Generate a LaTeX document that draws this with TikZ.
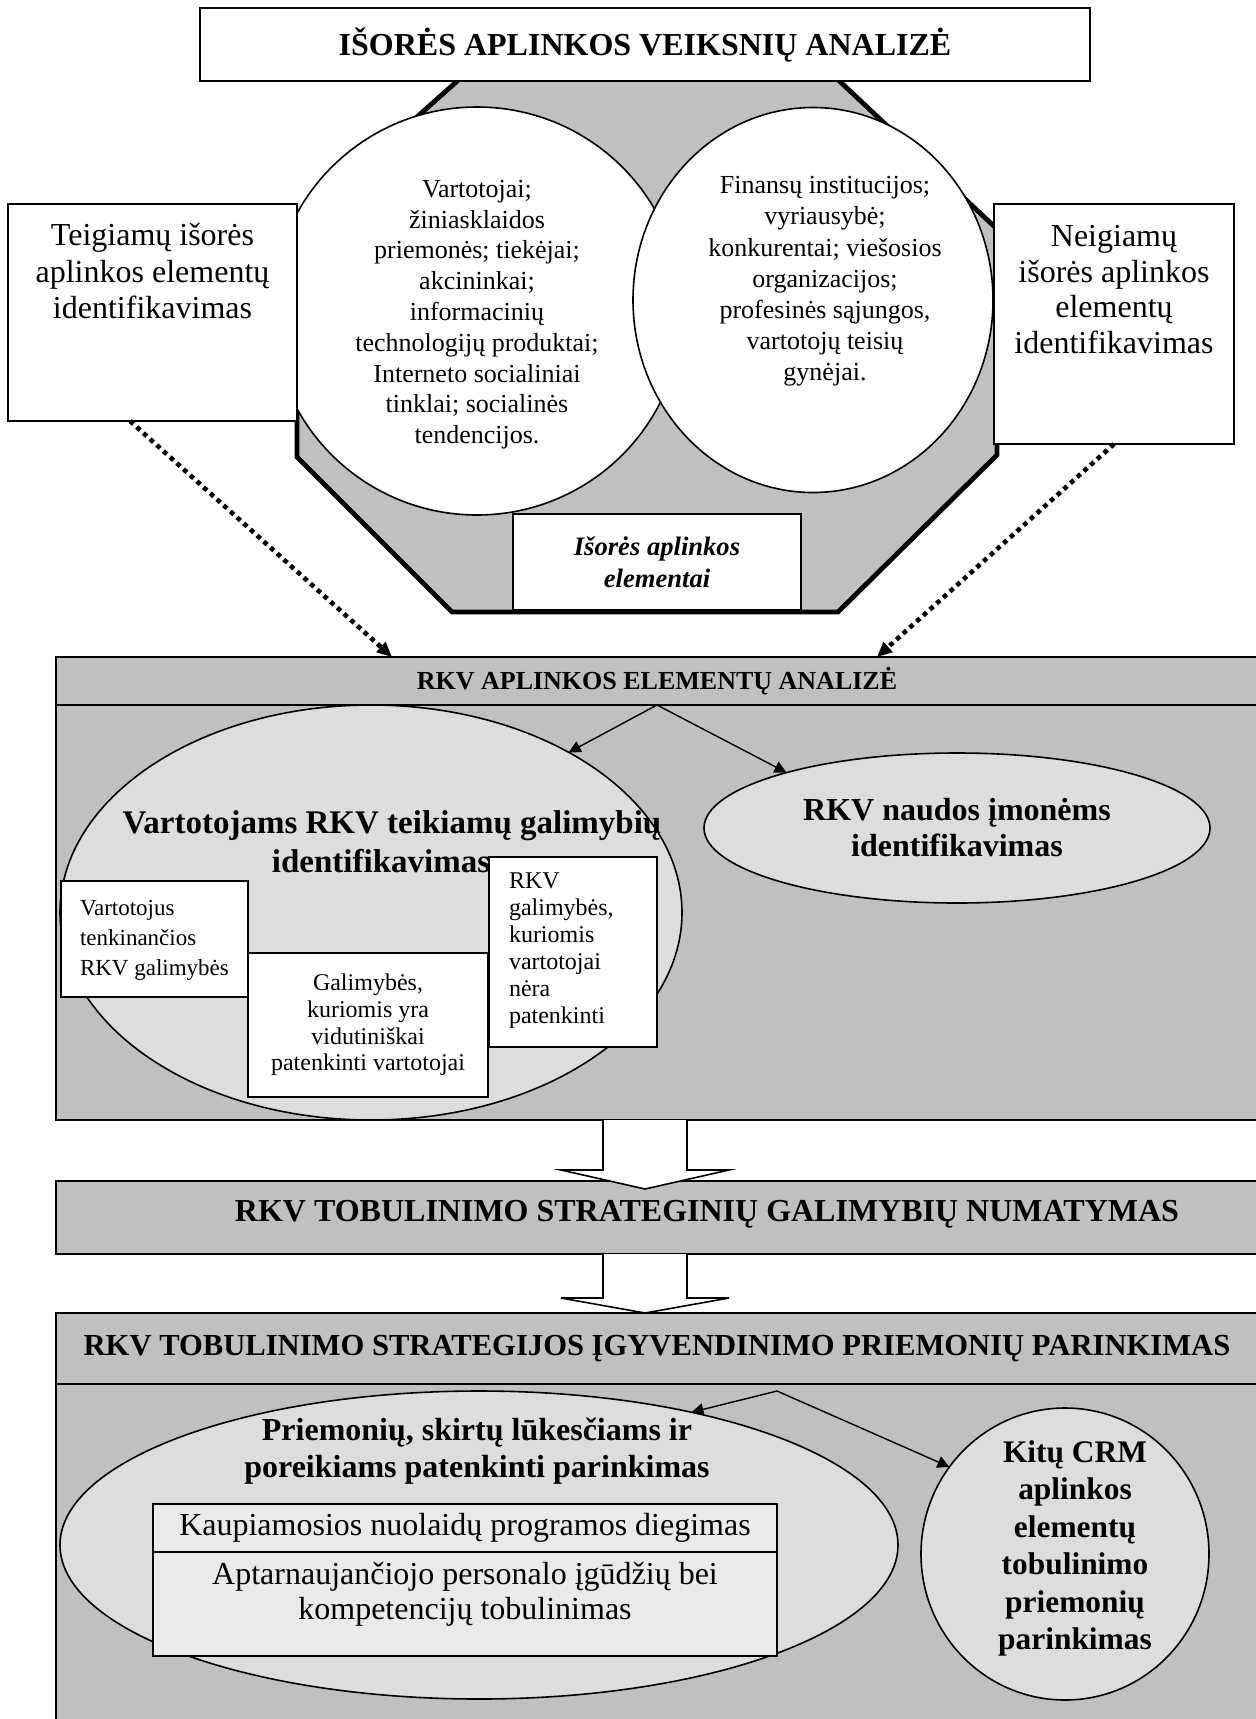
\documentclass[tikz,border=0pt]{standalone}
\usepackage{fontspec}
\setmainfont{Liberation Serif}
\usetikzlibrary{arrows.meta,shapes.geometric}

\definecolor{panelgray}{HTML}{C0C0C0}
\definecolor{ovalgray}{HTML}{DDDDDD}
\definecolor{cellgray}{HTML}{EAEAEA}

% font size with baseline skip
\newcommand{\fsz}[2]{\fontsize{#1}{#2}\selectfont}

\begin{document}
\begin{tikzpicture}[x=0.5pt,y=-0.5pt,
  every node/.style={inner sep=0pt,outer sep=0pt},
  box/.style={draw,line width=0.8pt,fill=white,rectangle},
  panel/.style={draw,line width=0.8pt,fill=panelgray,rectangle},
  oval/.style={draw,line width=0.8pt,ellipse},
  cell/.style={draw,line width=0.8pt,fill=cellgray,rectangle},
  txt/.style={align=center},
  dotarrow/.style={line width=2.3pt,dash pattern=on 2.3pt off 2.2pt,-{Triangle[length=7.5pt,width=6.5pt]}},
  thinarrow/.style={line width=0.7pt,-{Triangle[length=6pt,width=6pt]}},
  blockarrow/.style={draw,line width=0.8pt,fill=white,line join=miter}
]
\useasboundingbox (0,0) rectangle (1256,1719);
\fill[white] (0,0) rectangle (1256,1719);

% ---------- external environment: octagon with two ovals
\filldraw[fill=panelgray,line width=2.4pt,line join=miter]
  (464,75) -- (833,75) -- (997,229) -- (997,455) -- (838,612) -- (452,612)
  -- (297,457) -- (297,224) -- cycle;
\node[oval,fill=white,minimum width=205pt,minimum height=204pt] (envA) at (477,311) {};
\node[oval,fill=white,minimum width=180pt,minimum height=192.5pt] (envB) at (813,300) {};
\node[txt,font=\fsz{13}{15.4}] (envAtxt) at (477,314.6)
  {Vartotojai;\\žiniasklaidos\\priemonės; tiekėjai;\\akcininkai;\\informacinių\\technologijų produktai;\\Interneto socialiniai\\tinklai; socialinės\\tendencijos.};
\node[txt,font=\fsz{13}{15.6}] (envBtxt) at (825,281.5)
  {Finansų institucijos;\\vyriausybė;\\konkurentai; viešosios\\organizacijos;\\profesinės sąjungos,\\vartotojų teisių\\gynėjai.};

\node[box,minimum width=445pt,minimum height=36.5pt,font=\bfseries\fsz{16}{19}] (title) at (645,44.5)
  {IŠORĖS APLINKOS VEIKSNIŲ ANALIZĖ};

\node[box,minimum width=144.5pt,minimum height=108.5pt] (posbox) at (152.5,312.5) {};
\node[txt,font=\fsz{16}{18.25}] (postxt) at (152.5,271.5) {Teigiamų išorės\\aplinkos elementų\\identifikavimas};

\node[box,minimum width=120pt,minimum height=120pt] (negbox) at (1114,324) {};
\node[txt,font=\fsz{16}{17.9}] (negtxt) at (1114,289.5) {Neigiamų\\išorės aplinkos\\elementų\\identifikavimas};

\node[box,minimum width=144pt,minimum height=48pt,align=center,font=\bfseries\itshape\fsz{13.3}{16}] (envlabel) at (657,562)
  {Išorės aplinkos\\elementai};

% ---------- RKV environment analysis
\node[panel,minimum width=601pt,minimum height=24pt,font=\bfseries\fsz{13}{15}] (rkvhead) at (657,681)
  {RKV APLINKOS ELEMENTŲ ANALIZĖ};
\node[panel,minimum width=601pt,minimum height=207.5pt] (rkvbody) at (657,912.5) {};

\draw[dotarrow] ([xshift=61pt]posbox.south west) -- ([xshift=168pt]rkvhead.north west);
\draw[dotarrow] (negbox.south) -- ([xshift=410.5pt]rkvhead.north west);

\node[oval,fill=ovalgray,minimum width=311pt,minimum height=207.5pt] (custoval) at (371,912.5) {};
\node[oval,fill=ovalgray,minimum width=253pt,minimum height=75pt,align=center,font=\bfseries\fsz{16}{18}] (benoval) at (957,828)
  {RKV naudos įmonėms\\identifikavimas};
\node[font=\bfseries\fsz{16.5}{17.5}] (custtxtA) at (392,826) {Vartotojams RKV teikiamų galimybių};
\node[font=\bfseries\fsz{16.5}{17.5}] (custtxtB) at (381,861) {identifikavimas};

\node[box,minimum width=93.5pt,minimum height=58pt] (satbox) at (154.5,939) {};
\node[anchor=west,align=left,font=\fsz{11.5}{15}] (sattxt) at (80,940) {Vartotojus\\tenkinančios\\RKV galimybės};
\node[box,minimum width=120pt,minimum height=72pt,align=center,font=\fsz{12}{13.4}] (midbox) at (368,1025)
  {Galimybės,\\kuriomis yra\\vidutiniškai\\patenkinti vartotojai};
\node[box,minimum width=84pt,minimum height=95pt] (unsatbox) at (573,952) {};
\node[anchor=west,align=left,font=\fsz{12}{13.5}] (unsattxt) at (509,950.5)
  {RKV\\galimybės,\\kuriomis\\vartotojai\\nėra\\patenkinti};

\draw[thinarrow] (rkvhead.south) -- (custoval.39.7);
\draw[thinarrow] (rkvhead.south) -- (benoval.162.1);

% ---------- strategic opportunities
\node[panel,minimum width=601pt,minimum height=36.5pt] (stratbox) at (657,1217.5) {};
\node[font=\bfseries\fsz{16}{19}] (strattxt) at (707,1214) {RKV TOBULINIMO STRATEGINIŲ GALIMYBIŲ NUMATYMAS};
\filldraw[blockarrow] (603,1120) -- (603,1170) -- (561,1170) -- (645,1189) -- (729,1170) -- (687,1170) -- (687,1120);

% ---------- implementation measures
\node[panel,minimum width=601pt,minimum height=35.5pt,font=\bfseries\fsz{15.3}{18}] (implhead) at (657,1348.5)
  {RKV TOBULINIMO STRATEGIJOS ĮGYVENDINIMO PRIEMONIŲ PARINKIMAS};
\node[panel,minimum width=601pt,minimum height=175pt] (implbody) at (657,1559) {};
\filldraw[blockarrow] (603,1254) -- (603,1298) -- (561,1298) -- (645,1313) -- (729,1298) -- (687,1298) -- (687,1254);

\node[oval,fill=ovalgray,minimum width=419pt,minimum height=154pt] (measoval) at (479,1545) {};
\node[txt,font=\bfseries\fsz{16}{18.5}] (meastxt) at (477,1451.5)
  {Priemonių, skirtų lūkesčiams ir\\poreikiams patenkinti parinkimas};
\node[cell,minimum width=312pt,minimum height=24pt,font=\fsz{16}{18}] (cellA) at (465,1528)
  {Kaupiamosios nuolaidų programos diegimas};
\node[cell,minimum width=312pt,minimum height=52pt] (cellB) at (465,1604) {};
\node[txt,font=\fsz{16}{17.5}] (cellBtxt) at (465,1594.5)
  {Aptarnaujančiojo personalo įgūdžių bei\\kompetencijų tobulinimas};

\node[oval,fill=ovalgray,minimum width=144pt,minimum height=146pt] (crmoval) at (1065,1554) {};
\node[txt,font=\bfseries\fsz{15.7}{18.75}] (crmtxt) at (1075,1548.5)
  {Kitų CRM\\aplinkos\\elementų\\tobulinimo\\priemonių\\parinkimas};

\coordinate (fork) at (777,1391);
\draw[thinarrow] (fork) -- (measoval.32.5);
\draw[thinarrow] (fork) -- (crmoval.143);
\end{tikzpicture}
\end{document}
